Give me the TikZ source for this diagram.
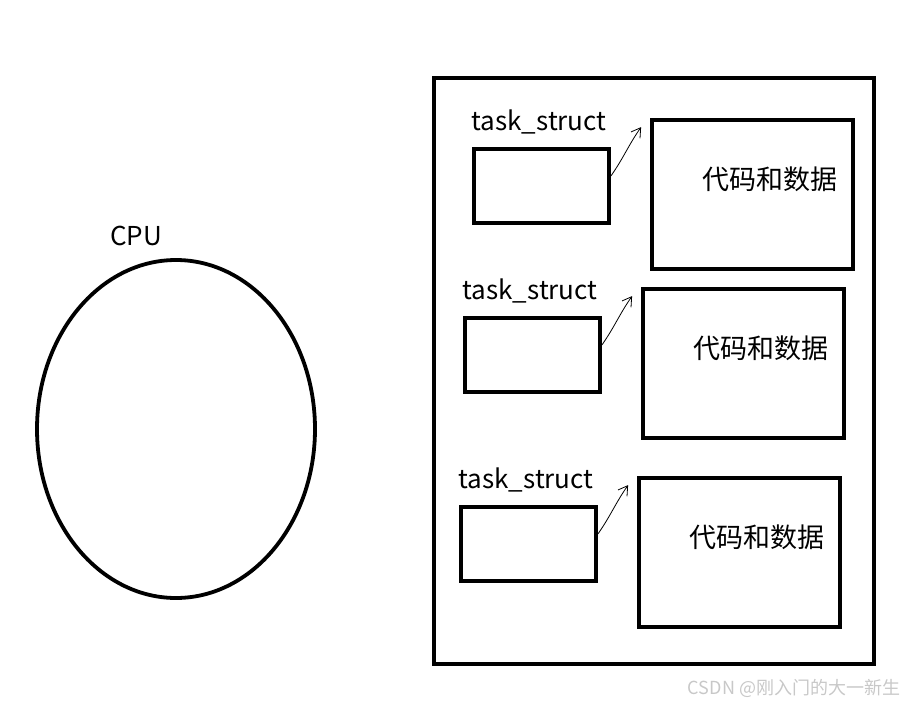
\documentclass[tikz,border=0pt]{standalone}
\usepackage{fontspec}
\setmainfont{Noto Sans CJK SC}
\usetikzlibrary{arrows.meta}
\usetikzlibrary{shapes.geometric}
\definecolor{markgray}{RGB}{200,200,200}

\begin{document}
\begin{tikzpicture}[x=1pt, y=-1pt,
    thickline/.style={draw, line width=3.8pt, inner sep=0pt},
    taskbox/.style={thickline, minimum width=135pt, minimum height=74pt},
    databox/.style={thickline, minimum width=201pt, minimum height=149pt},
    bigtext/.style={font=\fontsize{26}{30}\selectfont},
    cjktext/.style={font=\fontsize{27}{30}\selectfont},
    link/.style={line width=0.8pt, -{Straight Barb[length=9pt, width=11pt]}}]
    \useasboundingbox (0, 0) rectangle (902, 704);
    \begin{scope}
        \node[bigtext, anchor=center] (cpulabel) at (136, 236) {CPU};
        \node[thickline, ellipse, minimum width=278pt, minimum height=338pt] (cpu) at (176, 429) {};
        \node[thickline, minimum width=440pt, minimum height=586pt] (mem) at (654, 371) {};
    \end{scope}
    \begin{scope}
        \node[bigtext, anchor=center] (name1) at (539, 122) {task\_struct};
        \node[taskbox] (task1) at (541.5, 186) {};
        \node[databox] (data1) at (752.5, 194.5) {};
        \node[cjktext, anchor=center] (code1) at (770, 179) {代码和数据};
        \coordinate (tip1) at ([shift={(-9, 9)}]data1.north west);
        \draw[link] ([yshift=10pt]task1.east) to[out=55, in=235] (tip1);
    \end{scope}
    \begin{scope}[shift={(-9, 169)}]
        \node[bigtext, anchor=center] (name2) at (539, 122) {task\_struct};
        \node[taskbox] (task2) at (541.5, 186) {};
        \node[databox] (data2) at (752.5, 194.5) {};
        \node[cjktext, anchor=center] (code2) at (770, 179) {代码和数据};
        \coordinate (tip2) at ([shift={(-9, 9)}]data2.north west);
        \draw[link] ([yshift=10pt]task2.east) to[out=55, in=235] (tip2);
    \end{scope}
    \begin{scope}[shift={(-13, 358)}]
        \node[bigtext, anchor=center] (name3) at (539, 122) {task\_struct};
        \node[taskbox] (task3) at (541.5, 186) {};
        \node[databox] (data3) at (752.5, 194.5) {};
        \node[cjktext, anchor=center] (code3) at (770, 179) {代码和数据};
        \coordinate (tip3) at ([shift={(-9, 9)}]data3.north west);
        \draw[link] ([yshift=10pt]task3.east) to[out=55, in=235] (tip3);
    \end{scope}
    \node[color=markgray, anchor=center, font=\fontsize{18}{20}\selectfont] (mark) at (794, 688) {CSDN @刚入门的大一新生};
\end{tikzpicture}
\end{document}
